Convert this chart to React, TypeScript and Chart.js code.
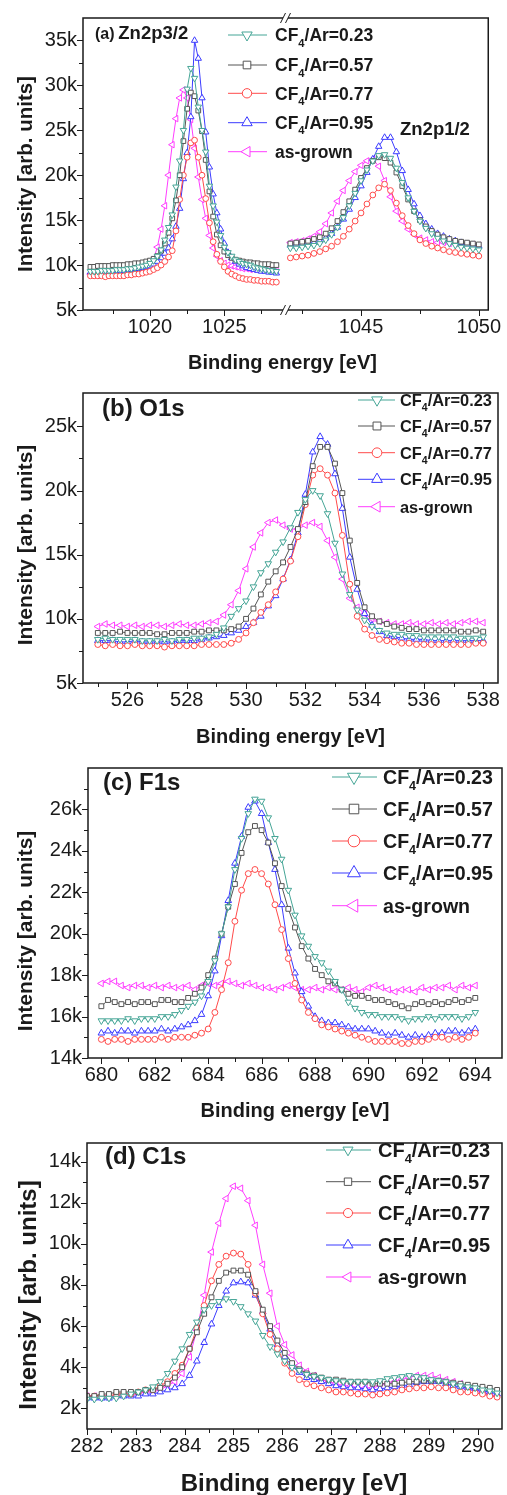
import React, { useEffect, useRef } from 'react';
import { Chart, registerables } from 'chart.js';

Chart.register(...registerables);

const FONT = "'Liberation Sans', Arial, Helvetica, sans-serif";
const INK = '#1a1a1a';
const PAGE_W = 507;

// ---------------- series ----------------
const SERIES_LABELS = ['CF4/Ar=0.23', 'CF4/Ar=0.57', 'CF4/Ar=0.77', 'CF4/Ar=0.95', 'as-grown'];
const SERIES_COLORS = ['#45a596', '#555555', '#ff4a4a', '#3b3bff', '#ff3dff'];
const SERIES_MARKERS = [
  { style: 'triangle', rotation: 180, scale: 1 },
  { style: 'rect', rotation: 0, scale: 0.9 },
  { style: 'circle', rotation: 0, scale: 0.78 },
  { style: 'triangle', rotation: 0, scale: 1 },
  { style: 'triangle', rotation: 270, scale: 1 },
];

// ---------------- energy sampling (eV) ----------------
const A_LEFT_START = 1016;
const A_RIGHT_START = 1042;
const A_STEP = 0.25;
const B_START = 525;
const B_STEP = 0.25;
const C_START = 680;
const C_STEP = 0.25;
const D_START = 282;
const D_STEP = 0.15;

// ---------------- (a) Zn2p, intensity in k counts ----------------
const A_LEFT_023 = [9.3, 9.3, 9.3, 9.4, 9.4, 9.4, 9.4, 9.5, 9.5, 9.5, 9.6, 9.6, 9.7, 9.8, 9.9, 10.0,
  10.2, 10.5, 11.0, 11.7, 12.8, 14.2, 15.6, 18.7, 21.6, 25.0, 29.6, 31.9, 30.8, 27.6, 25.0, 22.6, 18.8, 16.6, 14.8, 13.3,
  12.0, 11.4, 11.0, 10.6, 10.4, 10.2, 10.1, 10.0, 9.8, 9.7, 9.6, 9.5, 9.4, 9.4, 9.3];
const A_LEFT_057 = [9.8, 9.8, 9.9, 9.9, 9.9, 9.9, 10.0, 10.0, 10.0, 10.0, 10.1, 10.1, 10.2, 10.2, 10.3, 10.4,
  10.5, 10.7, 11.0, 11.6, 12.4, 13.6, 15.2, 17.2, 20.0, 23.8, 27.4, 29.2, 28.8, 27.2, 24.9, 21.7, 18.2, 15.4, 13.4, 12.2,
  11.5, 11.1, 10.8, 10.6, 10.5, 10.4, 10.3, 10.3, 10.2, 10.2, 10.1, 10.1, 10.1, 10.0, 10.0];
const A_LEFT_077 = [8.8, 8.8, 8.8, 8.8, 8.7, 8.8, 8.8, 8.8, 8.8, 8.8, 8.9, 8.9, 9.0, 9.0, 9.1, 9.2,
  9.3, 9.5, 9.7, 10.0, 10.4, 10.9, 11.6, 13.8, 17.3, 20.0, 22.0, 23.6, 23.9, 22.0, 20.0, 17.4, 14.7, 12.6, 11.2, 10.4,
  9.8, 9.3, 9.0, 8.8, 8.6, 8.5, 8.4, 8.4, 8.3, 8.3, 8.2, 8.2, 8.2, 8.1, 8.1];
const A_LEFT_095 = [9.2, 9.2, 9.2, 9.3, 9.3, 9.3, 9.3, 9.4, 9.4, 9.4, 9.5, 9.5, 9.6, 9.6, 9.7, 9.8,
  9.9, 10.1, 10.4, 10.8, 11.3, 11.9, 12.9, 14.3, 16.3, 19.6, 22.5, 26.5, 35.0, 33.0, 28.6, 24.8, 20.9, 17.9, 15.8, 14.0,
  12.4, 11.4, 10.8, 10.4, 10.1, 9.9, 9.7, 9.6, 9.5, 9.4, 9.3, 9.3, 9.2, 9.2, 9.1];
const A_LEFT_AG = [9.0, 9.0, 8.9, 9.0, 9.0, 9.0, 9.1, 9.1, 9.1, 9.2, 9.2, 9.3, 9.3, 9.4, 9.6, 9.8,
  10.1, 10.7, 12.0, 14.0, 16.6, 20.0, 23.4, 26.3, 28.6, 29.5, 28.6, 26.2, 23.0, 19.8, 17.3, 15.2, 13.3, 11.9, 11.0, 10.5,
  10.2, 10.0, 9.9, 9.8, 9.7, 9.6, 9.6, 9.5, 9.5, 9.5, 9.4, 9.4, 9.4, 9.4, 9.4];

const A_RIGHT_023 = [11.9, 11.9, 12.0, 12.1, 12.2, 12.4, 12.8, 13.4, 14.2, 15.3, 16.6, 18.0, 19.4, 20.6, 21.6, 22.2,
  22.3, 21.9, 20.8, 19.2, 17.5, 16.0, 14.9, 14.1, 13.5, 13.0, 12.7, 12.4, 12.2, 12.0, 11.9, 11.8, 11.7];
const A_RIGHT_057 = [12.4, 12.5, 12.6, 12.7, 12.9, 13.1, 13.5, 14.1, 14.9, 15.9, 17.1, 18.4, 19.7, 20.8, 21.6, 22.0,
  21.9, 21.4, 20.3, 18.8, 17.3, 16.0, 15.0, 14.3, 13.8, 13.4, 13.1, 12.9, 12.7, 12.6, 12.5, 12.4, 12.3];
const A_RIGHT_077 = [10.8, 10.9, 11.0, 11.1, 11.3, 11.5, 11.8, 12.1, 12.6, 13.2, 14.0, 14.9, 15.8, 16.8, 17.8, 18.6,
  19.0, 18.3, 16.9, 15.5, 14.4, 13.5, 12.8, 12.4, 12.1, 11.9, 11.7, 11.5, 11.4, 11.3, 11.2, 11.1, 11.0];
const A_RIGHT_095 = [12.2, 12.3, 12.3, 12.4, 12.5, 12.7, 13.0, 13.5, 14.2, 15.1, 16.2, 17.5, 18.8, 20.3, 21.8, 23.2,
  24.2, 24.2, 22.6, 20.5, 18.4, 16.8, 15.5, 14.6, 14.0, 13.5, 13.2, 12.9, 12.7, 12.5, 12.3, 12.2, 12.1];
const A_RIGHT_AG = [12.5, 12.6, 12.7, 12.9, 13.2, 13.7, 14.6, 15.8, 17.1, 18.3, 19.4, 20.4, 21.1, 21.6, 21.8, 21.0,
  19.4, 17.6, 16.0, 14.9, 14.0, 13.4, 13.0, 12.8, 12.6, 12.5, 12.5, 12.4, 12.4, 12.3, 12.3, 12.3, 12.2];

// ---------------- (b) O1s ----------------
const B_023 = [8.4, 8.5, 8.4, 8.4, 8.4, 8.4, 8.3, 8.3, 8.3, 8.4, 8.3, 8.4, 8.4, 8.5, 8.5, 8.6,
  8.8, 9.3, 10.2, 10.8, 11.4, 12.5, 13.6, 14.3, 15.2, 16.0, 17.1, 18.3, 19.3, 20.0, 19.6, 18.2, 15.9, 13.5, 11.9, 10.7,
  9.9, 9.4, 9.1, 8.9, 8.8, 8.8, 8.7, 8.7, 8.6, 8.6, 8.6, 8.6, 8.6, 8.5, 8.5, 8.5, 8.6];
const B_057 = [8.9, 8.9, 8.9, 9.0, 8.9, 8.9, 8.9, 8.9, 8.8, 8.8, 8.9, 8.9, 8.9, 9.0, 9.0, 9.1,
  9.1, 9.1, 9.2, 9.4, 10.0, 10.8, 11.9, 12.9, 13.7, 14.4, 15.6, 17.0, 19.1, 21.9, 23.4, 23.4, 22.1, 19.8, 16.1, 12.8,
  10.9, 10.2, 9.8, 9.6, 9.4, 9.3, 9.2, 9.2, 9.1, 9.1, 9.1, 9.1, 9.1, 9.0, 9.0, 9.1, 9.0];
const B_077 = [8.0, 7.9, 8.0, 7.9, 7.9, 8.0, 7.9, 7.9, 7.9, 7.8, 7.9, 7.9, 7.9, 7.9, 8.0, 8.0,
  8.0, 8.0, 8.1, 8.4, 8.9, 9.7, 10.5, 11.1, 12.1, 13.1, 14.5, 16.4, 18.9, 21.2, 21.7, 21.2, 19.8, 16.5, 12.7, 10.2,
  9.2, 8.7, 8.4, 8.3, 8.2, 8.1, 8.1, 8.0, 8.0, 8.0, 8.0, 8.0, 8.0, 8.0, 8.0, 8.1, 8.1];
const B_095 = [8.3, 8.3, 8.3, 8.2, 8.2, 8.3, 8.2, 8.2, 8.2, 8.2, 8.2, 8.3, 8.3, 8.3, 8.4, 8.5,
  8.6, 8.7, 8.9, 9.1, 9.4, 9.7, 10.2, 11.0, 11.8, 13.1, 14.6, 16.7, 19.7, 23.0, 24.2, 23.6, 21.3, 18.6, 14.8, 12.3,
  10.4, 9.5, 9.0, 8.7, 8.6, 8.5, 8.4, 8.4, 8.4, 8.3, 8.3, 8.3, 8.3, 8.3, 8.3, 8.3, 8.3];
const B_AG = [9.4, 9.6, 9.5, 9.5, 9.4, 9.5, 9.4, 9.5, 9.5, 9.4, 9.5, 9.6, 9.5, 9.5, 9.6, 9.7,
  9.8, 10.3, 11.1, 12.2, 13.9, 15.6, 16.7, 17.5, 17.7, 17.3, 17.0, 17.0, 17.3, 17.5, 17.2, 16.1, 14.8, 13.1, 11.6, 10.9,
  10.4, 10.0, 9.8, 9.7, 9.6, 9.6, 9.7, 9.6, 9.6, 9.7, 9.6, 9.7, 9.6, 9.7, 9.8, 9.8, 9.7];

// ---------------- (c) F1s ----------------
const C_023 = [15.8, 15.8, 15.8, 15.8, 15.9, 15.8, 15.9, 15.9, 15.9, 16.0, 16.0, 16.1, 16.3, 16.5, 16.7, 17.0,
  17.7, 18.7, 20.0, 21.3, 23.1, 24.6, 25.8, 26.5, 26.4, 25.6, 24.6, 23.6, 22.1, 20.9, 19.9, 19.4, 18.9, 18.6, 18.2, 17.7,
  17.3, 16.7, 16.4, 16.2, 16.1, 16.1, 16.0, 16.0, 16.0, 15.9, 15.8, 15.9, 15.9, 16.0, 15.9, 16.0, 16.0, 16.0, 15.9, 16.0, 16.2];
const C_057 = [16.5, 16.8, 16.7, 16.6, 16.7, 16.6, 16.7, 16.7, 16.6, 16.8, 16.8, 16.7, 16.7, 16.9, 17.1, 17.4,
  18.0, 18.8, 20.0, 21.3, 22.4, 23.9, 24.9, 25.2, 25.0, 24.4, 23.4, 22.3, 21.2, 20.3, 19.4, 18.8, 18.3, 18.0, 17.7, 17.6,
  17.3, 17.1, 17.0, 17.0, 16.9, 16.8, 16.8, 16.7, 16.6, 16.5, 16.4, 16.6, 16.7, 16.6, 16.7, 16.6, 16.7, 16.8, 16.7, 16.8, 16.9];
const C_077 = [14.9, 14.8, 14.9, 14.9, 14.8, 14.9, 14.9, 14.9, 14.9, 15.0, 14.9, 15.0, 15.0, 15.0, 15.1, 15.2,
  15.4, 16.2, 17.3, 18.6, 20.6, 22.1, 22.9, 23.1, 22.9, 22.4, 21.4, 20.2, 18.8, 17.6, 16.8, 16.2, 15.9, 15.6, 15.5, 15.4,
  15.3, 15.2, 15.1, 15.0, 14.9, 14.8, 14.8, 14.8, 14.8, 14.7, 14.7, 14.8, 14.8, 14.9, 15.0, 15.0, 14.9, 15.0, 14.9, 15.0, 15.2];
const C_095 = [15.2, 15.3, 15.2, 15.3, 15.3, 15.2, 15.3, 15.3, 15.3, 15.4, 15.3, 15.4, 15.5, 15.6, 15.8, 16.1,
  17.0, 18.2, 19.9, 21.6, 23.4, 24.7, 26.1, 26.4, 25.8, 24.4, 23.1, 21.4, 19.3, 18.1, 17.2, 16.5, 16.0, 15.8, 15.7, 15.7,
  15.6, 15.5, 15.4, 15.4, 15.4, 15.3, 15.2, 15.1, 15.2, 15.1, 15.0, 15.1, 15.0, 15.1, 15.2, 15.2, 15.3, 15.3, 15.2, 15.3, 15.4];
const C_AG = [17.6, 17.7, 17.7, 17.5, 17.4, 17.5, 17.5, 17.4, 17.5, 17.4, 17.5, 17.4, 17.4, 17.5, 17.3, 17.5,
  17.6, 17.5, 17.6, 17.7, 17.6, 17.5, 17.6, 17.5, 17.4, 17.4, 17.3, 17.4, 17.5, 17.4, 17.3, 17.3, 17.4, 17.3, 17.4, 17.3,
  17.3, 17.4, 17.3, 17.2, 17.4, 17.5, 17.4, 17.3, 17.2, 17.3, 17.3, 17.2, 17.4, 17.3, 17.4, 17.4, 17.5, 17.3, 17.5, 17.4, 17.5];

// ---------------- (d) C1s ----------------
const D_023 = [2.45, 2.45, 2.5, 2.5, 2.5, 2.6, 2.7, 2.8, 2.9, 3.05,
  3.3, 3.7, 4.3, 4.9, 5.6, 6.2, 6.8, 7.0, 7.2, 7.33,
  7.2, 6.95, 6.6, 6.25, 5.55, 5.0, 4.65, 4.3, 4.0, 3.85,
  3.65, 3.55, 3.5, 3.4, 3.35, 3.3, 3.3, 3.3, 3.3, 3.3,
  3.35, 3.45, 3.5, 3.55, 3.6, 3.55, 3.5, 3.4, 3.35, 3.3,
  3.2, 3.1, 3.05, 3.0, 2.9, 2.85, 2.75];
const D_057 = [2.6, 2.6, 2.7, 2.7, 2.8, 2.8, 2.8, 2.8, 2.9, 2.9,
  3.0, 3.2, 3.5, 4.0, 4.9, 5.7, 6.6, 7.4, 8.2, 8.6,
  8.7, 8.7, 8.5, 7.7, 6.8, 6.0, 5.3, 4.7, 4.2, 3.9,
  3.7, 3.6, 3.5, 3.4, 3.4, 3.35, 3.3, 3.3, 3.3, 3.2,
  3.2, 3.2, 3.2, 3.25, 3.3, 3.3, 3.35, 3.35, 3.35, 3.3,
  3.25, 3.2, 3.15, 3.1, 3.05, 3.0, 2.9];
const D_077 = [2.6, 2.6, 2.6, 2.6, 2.7, 2.7, 2.7, 2.8, 2.9, 2.9,
  3.1, 3.3, 3.7, 4.1, 4.9, 5.9, 7.0, 8.2, 9.0, 9.4,
  9.55, 9.5, 9.0, 7.6, 6.6, 5.6, 4.9, 4.2, 3.7, 3.4,
  3.2, 3.1, 3.0, 2.9, 2.8, 2.8, 2.75, 2.7, 2.7, 2.65,
  2.7, 2.75, 2.8, 2.9, 2.95, 3.0, 3.0, 3.05, 3.0, 3.0,
  2.9, 2.8, 2.8, 2.75, 2.7, 2.6, 2.55];
const D_095 = [2.5, 2.5, 2.5, 2.5, 2.6, 2.6, 2.6, 2.6, 2.7, 2.7,
  2.8, 2.9, 3.0, 3.2, 3.6, 4.3, 5.2, 6.1, 7.0, 7.7,
  8.1, 8.15, 8.1, 7.5, 6.7, 5.85, 5.1, 4.5, 4.05, 3.75,
  3.5, 3.4, 3.3, 3.2, 3.1, 3.05, 3.0, 3.0, 2.95, 2.9,
  2.95, 3.0, 3.05, 3.1, 3.15, 3.25, 3.3, 3.3, 3.3, 3.2,
  3.1, 3.05, 3.0, 2.95, 2.85, 2.8, 2.7];
const D_AG = [2.6, 2.6, 2.6, 2.6, 2.6, 2.7, 2.7, 2.7, 2.8, 2.8,
  2.9, 3.1, 3.3, 3.7, 4.5, 5.8, 7.5, 9.6, 11.0, 12.2,
  12.8, 12.7, 12.1, 10.9, 9.0, 7.6, 6.0, 5.1, 4.6, 4.1,
  3.8, 3.6, 3.4, 3.3, 3.2, 3.1, 3.1, 3.0, 3.0, 3.0,
  3.1, 3.2, 3.3, 3.4, 3.5, 3.6, 3.6, 3.6, 3.5, 3.4,
  3.3, 3.2, 3.0, 2.9, 2.8, 2.7, 2.6];

// ---------------- ticks ----------------
const A_X_MAJOR = [1020, 1025, 1045, 1050];
const A_X_MINOR = [1017.5, 1022.5, 1027.5, 1042.5, 1047.5];
const A_Y_MAJOR = [5, 10, 15, 20, 25, 30, 35];
const A_Y_MINOR = [7.5, 12.5, 17.5, 22.5, 27.5, 32.5];
const B_X_MAJOR = [526, 528, 530, 532, 534, 536, 538];
const B_X_MINOR = [525, 527, 529, 531, 533, 535, 537];
const B_Y_MAJOR = [5, 10, 15, 20, 25];
const B_Y_MINOR = [7.5, 12.5, 17.5, 22.5];
const C_X_MAJOR = [680, 682, 684, 686, 688, 690, 692, 694];
const C_X_MINOR = [681, 683, 685, 687, 689, 691, 693];
const C_Y_MAJOR = [14, 16, 18, 20, 22, 24, 26];
const C_Y_MINOR = [15, 17, 19, 21, 23, 25, 27];
const D_X_MAJOR = [282, 283, 284, 285, 286, 287, 288, 289, 290];
const D_X_MINOR = [282.5, 283.5, 284.5, 285.5, 286.5, 287.5, 288.5, 289.5];
const D_Y_MAJOR = [2, 4, 6, 8, 10, 12, 14];
const D_Y_MINOR = [3, 5, 7, 9, 11, 13];

// ---------------- broken axis for (a) ----------------
const A_BREAK_LO = 1029.06;
const A_BREAK_HI = 1041.76;
const A_RIGHT_SCALE = 23.6 / 14.9;
const aMap = (e: number) => (e <= A_BREAK_LO + 0.001 ? e : A_BREAK_LO + (e - A_BREAK_HI) * A_RIGHT_SCALE);
const aUnmap = (u: number) => (u <= A_BREAK_LO + 0.001 ? u : A_BREAK_HI + (u - A_BREAK_LO) / A_RIGHT_SCALE);
const ident = (v: number) => v;

function grid(start: number, step: number, n: number) {
  return Array.from({ length: n }, (_, i) => +(start + i * step).toFixed(3));
}
function pts(xs: number[], ys: number[], map = ident) {
  return xs.map((x, i) => ({ x: map(x), y: ys[i] }));
}

const A_LEFT_E = grid(A_LEFT_START, A_STEP, A_LEFT_023.length);
const A_RIGHT_E = grid(A_RIGHT_START, A_STEP, A_RIGHT_023.length);
const aSeries = (l: number[], r: number[]) => [
  ...pts(A_LEFT_E, l, aMap),
  { x: A_BREAK_LO, y: null as any },
  ...pts(A_RIGHT_E, r, aMap),
];
const B_E = grid(B_START, B_STEP, B_023.length);
const C_E = grid(C_START, C_STEP, C_023.length);
const D_E = grid(D_START, D_STEP, D_023.length);

type Cfg = any;

const PANELS: Cfg[] = [
  {
    key: 'a', top: 0, height: 375,
    area: { l: 83, t: 10, r: 489, b: 310 },
    xMin: 1015.5, xMax: aMap(1050.4), xMap: aMap, xUnmap: aUnmap,
    xMajor: A_X_MAJOR, xMinor: A_X_MINOR,
    yMin: 5, yMax: 37.5, yMajor: A_Y_MAJOR, yMinor: A_Y_MINOR,
    series: [aSeries(A_LEFT_023, A_RIGHT_023), aSeries(A_LEFT_057, A_RIGHT_057), aSeries(A_LEFT_077, A_RIGHT_077),
      aSeries(A_LEFT_095, A_RIGHT_095), aSeries(A_LEFT_AG, A_RIGHT_AG)],
    pointR: 3.7, tickFont: 20,
    xTitle: { x: 282.5, y: 369, size: 20 }, yTitle: { x: 26, y: 174, size: 20.5 },
    labels: [
      { text: '(a)', x: 95, y: 39, size: 16 },
      { text: 'Zn2p3/2', x: 118.3, y: 39, size: 18.5 },
      { text: 'Zn2p1/2', x: 400, y: 135, size: 18.5 },
    ],
    legend: { x1: 228, x2: 267, mx: 247, tx: 275, rows: [35, 65, 93.3, 122.7, 151.7], size: 17.5, mr: 6 },
    breakX: 285.5,
  },
  {
    key: 'b', top: 375, height: 375,
    area: { l: 83, t: 377, r: 498, b: 683 },
    xMin: 524.5, xMax: 538.5, xMap: ident, xUnmap: ident,
    xMajor: B_X_MAJOR, xMinor: B_X_MINOR,
    yMin: 5, yMax: 27.6, yMajor: B_Y_MAJOR, yMinor: B_Y_MINOR,
    series: [pts(B_E, B_023), pts(B_E, B_057), pts(B_E, B_077), pts(B_E, B_095), pts(B_E, B_AG)],
    pointR: 3.8, tickFont: 20,
    xTitle: { x: 290.5, y: 743, size: 20 }, yTitle: { x: 26, y: 545, size: 21 },
    labels: [{ text: '(b) O1s', x: 102, y: 416, size: 24 }],
    legend: { x1: 358, x2: 395, mx: 377, tx: 400, rows: [400, 426, 452.7, 479.3, 506.7], size: 16.4, mr: 6.2 },
  },
  {
    key: 'c', top: 750, height: 375,
    area: { l: 88, t: 753, r: 502, b: 1058 },
    xMin: 679.5, xMax: 695, xMap: ident, xUnmap: ident,
    xMajor: C_X_MAJOR, xMinor: C_X_MINOR,
    yMin: 14, yMax: 28, yMajor: C_Y_MAJOR, yMinor: C_Y_MINOR,
    series: [pts(C_E, C_023), pts(C_E, C_057), pts(C_E, C_077), pts(C_E, C_095), pts(C_E, C_AG)],
    pointR: 3.8, tickFont: 20,
    xTitle: { x: 295, y: 1117, size: 20 }, yTitle: { x: 26.5, y: 931, size: 21 },
    labels: [{ text: '(c) F1s', x: 103, y: 790, size: 24 }],
    legend: { x1: 332, x2: 377, mx: 354, tx: 383, rows: [777, 809, 841, 873, 905.7], size: 19.6, mr: 7.5 },
  },
  {
    key: 'd', top: 1125, height: 370,
    area: { l: 87, t: 1128, r: 502, b: 1429 },
    xMin: 282, xMax: 290.5, xMap: ident, xUnmap: ident,
    xMajor: D_X_MAJOR, xMinor: D_X_MINOR,
    yMin: 1, yMax: 14.9, yMajor: D_Y_MAJOR, yMinor: D_Y_MINOR,
    series: [pts(D_E, D_023), pts(D_E, D_057), pts(D_E, D_077), pts(D_E, D_095), pts(D_E, D_AG)],
    pointR: 3.8, tickFont: 20,
    xTitle: { x: 294, y: 1491, size: 24 }, yTitle: { x: 29, y: 1295, size: 24 },
    labels: [{ text: '(d) C1s', x: 105, y: 1164, size: 24 }],
    legend: { x1: 326, x2: 371, mx: 348, tx: 378, rows: [1150, 1181.7, 1213, 1245, 1277], size: 20, mr: 5.8 },
  },
];

function drawMarker(ctx: CanvasRenderingContext2D, style: string, rotation: number, x: number, y: number, r: number) {
  ctx.beginPath();
  if (style === 'circle') {
    ctx.arc(x, y, r, 0, Math.PI * 2);
  } else if (style === 'rect') {
    const s = r * Math.SQRT1_2;
    ctx.rect(x - s, y - s, 2 * s, 2 * s);
  } else {
    let rad = (rotation * Math.PI) / 180;
    for (let k = 0; k < 3; k++) {
      const px = x + Math.sin(rad) * r;
      const py = y - Math.cos(rad) * r;
      if (k === 0) ctx.moveTo(px, py); else ctx.lineTo(px, py);
      rad += (2 * Math.PI) / 3;
    }
    ctx.closePath();
  }
  ctx.fillStyle = '#ffffff';
  ctx.fill();
  ctx.stroke();
}

function drawSeriesLabel(ctx: CanvasRenderingContext2D, text: string, x: number, baseline: number, size: number) {
  ctx.fillStyle = INK;
  ctx.textAlign = 'left';
  ctx.textBaseline = 'alphabetic';
  ctx.font = `bold ${size}px ${FONT}`;
  if (text.startsWith('CF4')) {
    ctx.fillText('CF', x, baseline);
    let w = ctx.measureText('CF').width;
    ctx.font = `bold ${size * 0.64}px ${FONT}`;
    ctx.fillText('4', x + w, baseline + size * 0.3);
    w += ctx.measureText('4').width;
    ctx.font = `bold ${size}px ${FONT}`;
    ctx.fillText(text.slice(3), x + w, baseline);
  } else {
    ctx.fillText(text, x, baseline);
  }
}

function makeDeco(cfg: Cfg) {
  return {
    id: 'deco' + cfg.key,
    afterDraw(chart: any) {
      const ctx: CanvasRenderingContext2D = chart.ctx;
      const { left, right, top, bottom } = chart.chartArea;
      const xs = chart.scales.x;
      const ys = chart.scales.y;
      ctx.save();
      ctx.strokeStyle = INK;
      ctx.lineWidth = 1;
      ctx.beginPath();
      const tickX = (v: number, len: number) => {
        const p = Math.round(xs.getPixelForValue(cfg.xMap(v))) + 0.5;
        ctx.moveTo(p, bottom);
        ctx.lineTo(p, bottom + len);
      };
      const tickY = (v: number, len: number) => {
        const p = Math.round(ys.getPixelForValue(v)) + 0.5;
        ctx.moveTo(left, p);
        ctx.lineTo(left - len, p);
      };
      cfg.xMajor.forEach((v: number) => tickX(v, 6));
      cfg.xMinor.forEach((v: number) => tickX(v, 4));
      cfg.yMajor.forEach((v: number) => tickY(v, 6));
      cfg.yMinor.forEach((v: number) => tickY(v, 4));
      ctx.stroke();

      ctx.lineWidth = 1.5;
      ctx.strokeRect(left, top, right - left, bottom - top);

      if (cfg.breakX) {
        const bx = cfg.breakX;
        [top, bottom].forEach((yy: number) => {
          ctx.fillStyle = '#ffffff';
          ctx.fillRect(bx - 2.5, yy - 2, 5, 4);
          ctx.lineWidth = 1;
          ctx.beginPath();
          ctx.moveTo(bx - 5, yy + 5);
          ctx.lineTo(bx, yy - 5);
          ctx.moveTo(bx, yy + 5);
          ctx.lineTo(bx + 5, yy - 5);
          ctx.stroke();
        });
      }

      // page-coordinate decorations
      ctx.translate(0, -cfg.top);
      ctx.fillStyle = INK;
      ctx.font = `bold ${cfg.xTitle.size}px ${FONT}`;
      ctx.textAlign = 'center';
      ctx.textBaseline = 'alphabetic';
      ctx.fillText('Binding energy [eV]', cfg.xTitle.x, cfg.xTitle.y);
      ctx.save();
      ctx.translate(cfg.yTitle.x, cfg.yTitle.y);
      ctx.rotate(-Math.PI / 2);
      ctx.font = `bold ${cfg.yTitle.size}px ${FONT}`;
      ctx.textAlign = 'center';
      ctx.textBaseline = 'middle';
      ctx.fillText('Intensity [arb. units]', 0, 0);
      ctx.restore();
      cfg.labels.forEach((lb: any) => {
        ctx.font = `bold ${lb.size}px ${FONT}`;
        ctx.textAlign = 'left';
        ctx.textBaseline = 'alphabetic';
        ctx.fillText(lb.text, lb.x, lb.y);
      });
      const lg = cfg.legend;
      SERIES_LABELS.forEach((name, i) => {
        const y = lg.rows[i];
        ctx.strokeStyle = SERIES_COLORS[i];
        ctx.lineWidth = 1;
        ctx.beginPath();
        ctx.moveTo(lg.x1, y);
        ctx.lineTo(lg.x2, y);
        ctx.stroke();
        const mk = SERIES_MARKERS[i];
        drawMarker(ctx, mk.style, mk.rotation, lg.mx, y, lg.mr * mk.scale);
        drawSeriesLabel(ctx, name, lg.tx, y + lg.size * 0.36, lg.size);
      });
      ctx.restore();
    },
  };
}

function buildConfig(cfg: Cfg): any {
  const padTop = cfg.area.t - cfg.top;
  const padRight = PAGE_W - cfg.area.r;
  const xAxisH = cfg.top + cfg.height - cfg.area.b;
  const datasets = cfg.series.map((data: any[], i: number) => ({
    label: SERIES_LABELS[i],
    data,
    showLine: true,
    borderColor: SERIES_COLORS[i],
    backgroundColor: '#ffffff',
    borderWidth: 1,
    pointStyle: SERIES_MARKERS[i].style,
    pointRotation: SERIES_MARKERS[i].rotation,
    pointRadius: cfg.pointR * SERIES_MARKERS[i].scale,
    pointBorderWidth: 1,
    pointBorderColor: SERIES_COLORS[i],
    pointBackgroundColor: '#ffffff',
    tension: 0,
    spanGaps: false,
  }));
  return {
    type: 'scatter',
    data: { datasets },
    options: {
      responsive: false,
      animation: false,
      devicePixelRatio: 1,
      events: [],
      layout: { autoPadding: false, padding: { left: 0, top: padTop, right: padRight, bottom: 0 } },
      plugins: { legend: { display: false }, tooltip: { enabled: false }, title: { display: false } },
      scales: {
        x: {
          type: 'linear',
          min: cfg.xMin,
          max: cfg.xMax,
          grid: { display: false, drawTicks: false },
          border: { display: false },
          ticks: {
            font: { family: FONT, size: cfg.tickFont },
            color: INK,
            padding: 5.5,
            autoSkip: false,
            maxRotation: 0,
            minRotation: 0,
            callback: (v: number) => String(Math.round(cfg.xUnmap(v))),
          },
          afterBuildTicks: (s: any) => {
            s.ticks = cfg.xMajor.map((v: number) => ({ value: cfg.xMap(v) }));
          },
          afterFit: (s: any) => {
            s.height = xAxisH;
          },
        },
        y: {
          type: 'linear',
          min: cfg.yMin,
          max: cfg.yMax,
          grid: { display: false, drawTicks: false },
          border: { display: false },
          ticks: {
            font: { family: FONT, size: cfg.tickFont },
            color: INK,
            padding: 6,
            autoSkip: false,
            callback: (v: number) => `${v}k`,
          },
          afterBuildTicks: (s: any) => {
            s.ticks = cfg.yMajor.map((v: number) => ({ value: v }));
          },
          afterFit: (s: any) => {
            s.width = cfg.area.l;
          },
        },
      },
    },
    plugins: [makeDeco(cfg)],
  };
}

function Panel({ cfg }: { cfg: Cfg }) {
  const ref = useRef<HTMLCanvasElement | null>(null);
  useEffect(() => {
    if (!ref.current) return;
    const chart = new Chart(ref.current, buildConfig(cfg));
    return () => chart.destroy();
  }, [cfg]);
  return (
    <div style={{ position: 'absolute', left: 0, top: cfg.top, width: PAGE_W, height: cfg.height }}>
      <canvas ref={ref} width={PAGE_W} height={cfg.height} style={{ display: 'block' }} />
    </div>
  );
}

export default function App() {
  return (
    <div>
      {PANELS.map((p) => (
        <Panel key={p.key} cfg={p} />
      ))}
    </div>
  );
}
